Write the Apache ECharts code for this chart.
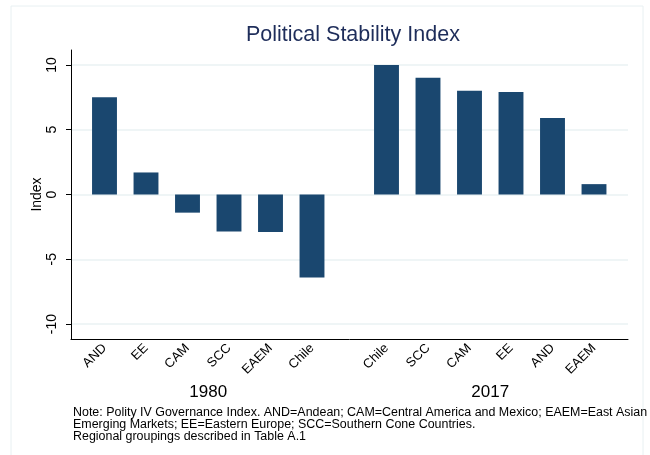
<!DOCTYPE html>
<html><head><meta charset="utf-8">
<script src="https://cdn.jsdelivr.net/npm/echarts@6/dist/echarts.min.js"></script>
<style>html,body{margin:0;padding:0;background:#fff}#c{width:650px;height:455px}</style>
</head><body><div id="c"></div>
<script>
var title = 'Political Stability Index';
var cats1980 = ['AND', 'EE', 'CAM', 'SCC', 'EAEM', 'Chile'];
var vals1980 = [7.5, 1.7, -1.4, -2.85, -2.9, -6.4];
var cats2017 = ['Chile', 'SCC', 'CAM', 'EE', 'AND', 'EAEM'];
var vals2017 = [10.0, 9.0, 8.0, 7.9, 5.9, 0.8];
var yTicks = [-10, -5, 0, 5, 10];
var groupNames = ['1980', '2017'];
var noteLines = [
  'Note: Polity IV Governance Index. AND=Andean; CAM=Central America and Mexico; EAEM=East Asian',
  'Emerging Markets; EE=Eastern Europe; SCC=Southern Cone Countries.',
  'Regional groupings described in Table A.1'
];

var FONT = '"Liberation Sans", Arial, Helvetica, sans-serif';
var BAR = '#1a476f';
var GRIDC = '#eaf2f3';
var YMIN = -11.15, YMAX = 11.15;

var chart = echarts.init(document.getElementById('c'), null, {renderer: 'canvas'});
function hiddenY(idx) {
  return {type: 'value', gridIndex: idx, min: YMIN, max: YMAX, show: false};
}
function catX(idx, cats, name) {
  return {
    type: 'category', gridIndex: idx, data: cats, boundaryGap: true,
    name: name, nameLocation: 'middle', nameGap: 44,
    nameTextStyle: {fontFamily: FONT, fontSize: 17, color: '#000'},
    axisLine: {show: false}, axisTick: {show: false}, splitLine: {show: false},
    axisLabel: {rotate: 45, fontFamily: FONT, fontSize: 13, color: '#000', margin: 7, interval: 0}
  };
}
var option = {
  backgroundColor: '#fff',
  animation: false,
  title: {
    text: title, left: 241, top: 19,
    textStyle: {fontFamily: FONT, fontSize: 21.5, fontWeight: 'normal', color: '#1e2d5a'}
  },
  graphic: [
    {type: 'rect', shape: {x: 11, y: 6, width: 632, height: 460}, style: {fill: 'none', stroke: '#e8f0f2', lineWidth: 1}, silent: true},
    {type: 'text', left: 73, top: 407, style: {text: noteLines.join('\n'), font: '12.45px ' + FONT, fill: '#000', lineHeight: 12}}
  ],
  grid: [
    {left: 71, right: 22, top: 50, bottom: 116},
    {left: 83.75, right: 317.25, top: 50, bottom: 116},
    {left: 365.75, right: 35.25, top: 50, bottom: 116}
  ],
  xAxis: [
    {type: 'value', gridIndex: 0, min: 0, max: 1,
     axisLine: {show: true, onZero: false, lineStyle: {color: '#000', width: 1}},
     axisTick: {show: false}, axisLabel: {show: false}, splitLine: {show: false}},
    catX(1, cats1980, groupNames[0]),
    catX(2, cats2017, groupNames[1])
  ],
  yAxis: [
    {type: 'value', gridIndex: 0, min: YMIN, max: YMAX,
     name: 'Index', nameLocation: 'middle', nameGap: 27, nameRotate: 90, nameMoveOverlap: false,
     nameTextStyle: {fontFamily: FONT, fontSize: 14, color: '#000'},
     axisLine: {show: true, onZero: false, lineStyle: {color: '#000', width: 1}},
     axisTick: {show: true, length: 5, customValues: yTicks, lineStyle: {color: '#000'}},
     axisLabel: {customValues: yTicks, rotate: 90, fontFamily: FONT, fontSize: 14, color: '#000', margin: 12},
     splitLine: {show: true, lineStyle: {color: GRIDC, width: 1.5}}},
    hiddenY(1), hiddenY(2)
  ],
  series: [
    {type: 'bar', xAxisIndex: 1, yAxisIndex: 1, data: vals1980, barWidth: '60%',
     itemStyle: {color: BAR}},
    {type: 'bar', xAxisIndex: 2, yAxisIndex: 2, data: vals2017, barWidth: '60%',
     itemStyle: {color: BAR}}
  ]
};
chart.setOption(option);
</script></body></html>
